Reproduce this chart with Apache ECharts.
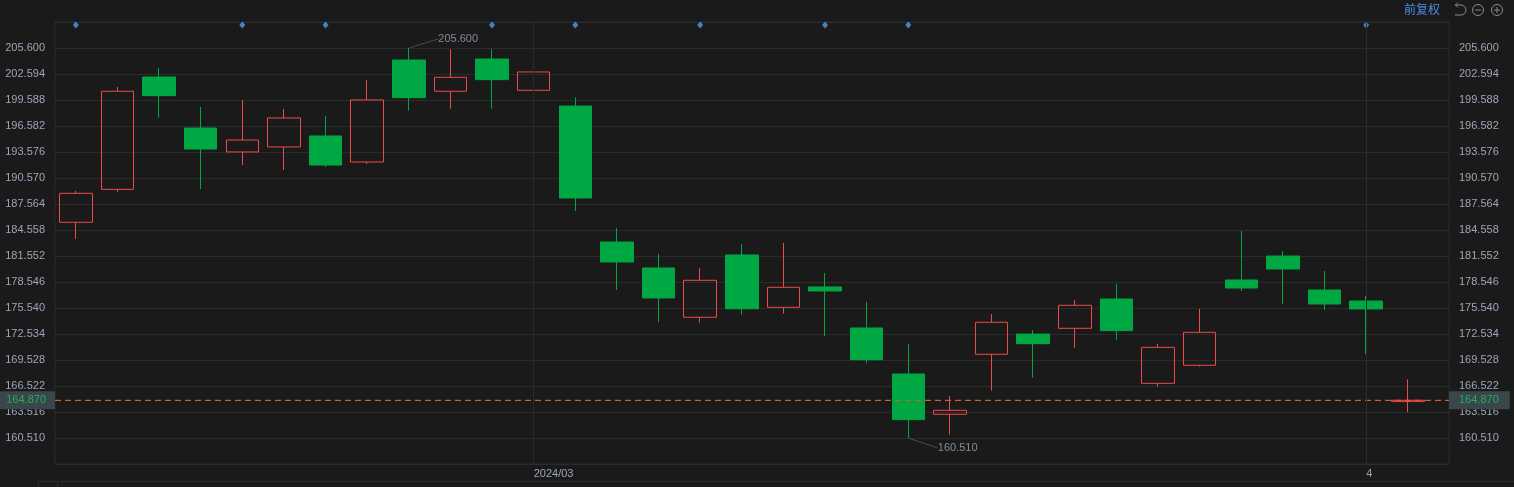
<!DOCTYPE html>
<html><head><meta charset="utf-8">
<script src="https://cdn.jsdelivr.net/npm/echarts@6/dist/echarts.min.js"></script>
<style>html,body{margin:0;padding:0;background:#1a1a1a;}#c{width:1514px;height:487px;}</style>
</head><body><div id="c"></div>
<script>
// ---- data ----
const categories = [
  '2024-02-14','2024-02-15','2024-02-16','2024-02-20','2024-02-21','2024-02-22','2024-02-23','2024-02-26','2024-02-27','2024-02-28','2024-02-29',
  '2024-03-01','2024-03-04','2024-03-05','2024-03-06','2024-03-07','2024-03-08','2024-03-11','2024-03-12','2024-03-13','2024-03-14','2024-03-15',
  '2024-03-18','2024-03-19','2024-03-20','2024-03-21','2024-03-22','2024-03-25','2024-03-26','2024-03-27','2024-03-28',
  '2024-04-01','2024-04-02'
];
const openV  = [185.45,189.26,202.25,196.35,193.58,194.16,195.43,192.42,204.21,200.60,204.33,200.71,198.89,183.17,180.17,174.47,181.67,175.62,177.97,173.23,167.91,163.25,170.19,172.53,173.19,176.58,166.83,168.92,178.78,181.55,177.62,176.35,164.72];
const closeV = [188.80,200.60,200.09,193.92,194.96,197.51,192.07,199.59,199.86,202.21,201.94,202.83,188.26,180.86,176.70,178.74,175.46,177.93,177.51,169.56,162.63,163.71,173.89,171.41,175.85,172.92,170.99,172.73,177.85,180.05,176.00,175.43,164.87];
const lowV   = [183.52,188.95,197.54,189.30,192.07,191.50,191.84,192.19,198.35,198.58,198.58,198.58,186.76,177.62,173.92,173.84,174.77,174.88,172.30,169.18,160.51,160.89,165.98,167.48,170.95,171.88,166.44,168.75,177.51,176.00,175.31,170.22,163.48];
const highV  = [189.07,201.09,203.29,198.78,199.59,198.55,197.74,201.90,205.60,205.45,205.45,204.68,199.90,184.79,181.78,180.17,182.94,183.06,179.59,176.23,171.38,165.37,174.85,172.99,176.47,178.32,171.38,175.43,184.44,182.13,179.82,176.93,167.30];
const lastPrice = 164.870;
const eventDates = ['2024-02-14','2024-02-21','2024-02-23','2024-02-29','2024-03-04','2024-03-07','2024-03-12','2024-03-14','2024-04-01'];
const monthLabels = {'2024-03-01':'2024/03','2024-04-01':'4'};
const yMin = 157.504, yMax = 208.606, yStep = 3.006;
const eventY = 208.26;

// ---- derived ----
const candleData = categories.map((c,i)=>[openV[i],closeV[i],lowV[i],highV[i]]);
let hiIdx = 0, loIdx = 0;
highV.forEach((v,i)=>{ if (v > highV[hiIdx]) hiIdx = i; });
lowV.forEach((v,i)=>{ if (v < lowV[loIdx]) loIdx = i; });

const FONT = 'Liberation Sans, Arial, sans-serif';
const LBL = '#9ca6b8';
const GRIDC = '#2b2b2b';
const UP = '#f04848', DOWN = '#00a843';
const band = 41.625;

const chart = echarts.init(document.getElementById('c'), null, {renderer:'canvas'});
const yCommon = {type:'value', min:yMin, max:yMax, interval:yStep, scale:true};
chart.setOption({
  backgroundColor:'#1a1a1a',
  animation:false,
  textStyle:{fontFamily:FONT},
  grid:[
    {left:55, right:65, top:22, height:442, show:true, borderColor:GRIDC, borderWidth:1, backgroundColor:'transparent', outerBoundsMode:'none', containLabel:false},
    {left:55, width:band*categories.length, top:22, height:442, outerBoundsMode:'none', containLabel:false}
  ],
  xAxis:[
    {type:'value', gridIndex:0, min:0, max:1, show:false},
    {type:'category', gridIndex:1, data:categories, boundaryGap:true,
     axisLine:{show:false}, axisTick:{show:false}, splitLine:{show:false},
     axisLabel:{interval:(i,v)=>monthLabels[v]!==undefined, formatter:v=>monthLabels[v]||'', color:LBL, fontSize:11, fontFamily:FONT, align:'left', margin:4, hideOverlap:false}}
  ],
  yAxis:[
    Object.assign({}, yCommon, {gridIndex:0, position:'left',
      axisLine:{show:false}, axisTick:{show:false},
      splitLine:{show:true, lineStyle:{color:GRIDC, width:1}},
      axisLabel:{color:LBL, fontSize:11, fontFamily:FONT, margin:10, showMinLabel:false, showMaxLabel:false, formatter:v=>v.toFixed(3)}}),
    Object.assign({}, yCommon, {gridIndex:0, position:'right',
      axisLine:{show:false}, axisTick:{show:false}, splitLine:{show:false},
      axisLabel:{color:LBL, fontSize:11, fontFamily:FONT, margin:10, showMinLabel:false, showMaxLabel:false, formatter:v=>v.toFixed(3)}}),
    Object.assign({}, yCommon, {gridIndex:1, show:false, splitLine:{show:false}})
  ],
  series:[
    {type:'line', xAxisIndex:0, yAxisIndex:0, data:[[0,lastPrice],[1,lastPrice]], showSymbol:false, silent:true, z:1,
     lineStyle:{color:'#c8642a', type:[6,4], width:1},
     markLine:{symbol:'none', silent:true, animation:false,
       lineStyle:{color:'#c8642a', type:[6,4], width:1},
       data:[
         {yAxis:lastPrice, label:{show:true, position:'start', distance:0, formatter:()=>lastPrice.toFixed(3), color:'#1fb35a', backgroundColor:'#3b454c', padding:[4,9,3,7], fontSize:11, fontFamily:FONT}},
         {yAxis:lastPrice, label:{show:true, position:'end', distance:0, formatter:()=>lastPrice.toFixed(3), color:'#1fb35a', backgroundColor:'#3b454c', padding:[4,11,3,10], fontSize:11, fontFamily:FONT}}
       ]}
    },
    {type:'candlestick', xAxisIndex:1, yAxisIndex:2, data:candleData, barWidth:33, z:3,
     itemStyle:{color:'transparent', color0:DOWN, borderColor:UP, borderColor0:DOWN, borderWidth:1},
     markLine:{symbol:'none', silent:true, animation:false, label:{show:false},
       lineStyle:{color:GRIDC, type:'solid', width:1},
       data:Object.keys(monthLabels).map(d=>({xAxis:d}))}
    },
    {type:'scatter', xAxisIndex:1, yAxisIndex:2, symbol:'diamond', symbolSize:[6,7], silent:true, z:4,
     itemStyle:{color:'#4a9cf5'}, data:eventDates.map(d=>[d, eventY])},
    {type:'scatter', xAxisIndex:1, yAxisIndex:2, symbolSize:1, silent:true, z:5,
     itemStyle:{color:'#555'},
     label:{show:true, position:'right', distance:0, color:LBL, fontSize:11, fontFamily:FONT, formatter:p=>p.value[1].toFixed(3)},
     labelLine:{show:true, lineStyle:{color:'#4a4a4a', width:1}},
     labelLayout:(p)=> p.dataIndex===0 ? {dx:29, dy:-9} : {dx:29, dy:10},
     data:[
       [categories[hiIdx], highV[hiIdx]],
       [categories[loIdx], lowV[loIdx]]
     ]}
  ],
  graphic:[
    {type:'text', left:1404, top:3, style:{text:'前复权', fill:'#4a8fe6', font:'12px "Noto Sans CJK SC"'}},
    {type:'arc', shape:{cx:1461, cy:10, r:5, startAngle:-Math.PI/2, endAngle:Math.PI/2}, style:{stroke:'#8a8a8a', fill:'none', lineWidth:1}},
    {type:'line', shape:{x1:1455, y1:5, x2:1461, y2:5}, style:{stroke:'#8a8a8a', lineWidth:1}},
    {type:'line', shape:{x1:1455, y1:15, x2:1461, y2:15}, style:{stroke:'#8a8a8a', lineWidth:1}},
    {type:'polyline', shape:{points:[[1458,2.5],[1455.5,5],[1458,7.5]]}, style:{stroke:'#8a8a8a', fill:'none', lineWidth:1}},
    {type:'circle', shape:{cx:1478, cy:10, r:5.5}, style:{stroke:'#8a8a8a', fill:'none', lineWidth:1}},
    {type:'line', shape:{x1:1475, y1:10, x2:1481, y2:10}, style:{stroke:'#8a8a8a', lineWidth:1}},
    {type:'circle', shape:{cx:1497, cy:10, r:5.5}, style:{stroke:'#8a8a8a', fill:'none', lineWidth:1}},
    {type:'line', shape:{x1:1494, y1:10, x2:1500, y2:10}, style:{stroke:'#8a8a8a', lineWidth:1}},
    {type:'line', shape:{x1:1497, y1:7, x2:1497, y2:13}, style:{stroke:'#8a8a8a', lineWidth:1}},
    {type:'line', shape:{x1:38, y1:481.5, x2:1514, y2:481.5}, style:{stroke:GRIDC, lineWidth:1}},
    {type:'line', shape:{x1:38.5, y1:481, x2:38.5, y2:487}, style:{stroke:GRIDC, lineWidth:1}},
    {type:'line', shape:{x1:57.5, y1:481, x2:57.5, y2:487}, style:{stroke:GRIDC, lineWidth:1}}
  ]
});
</script></body></html>
